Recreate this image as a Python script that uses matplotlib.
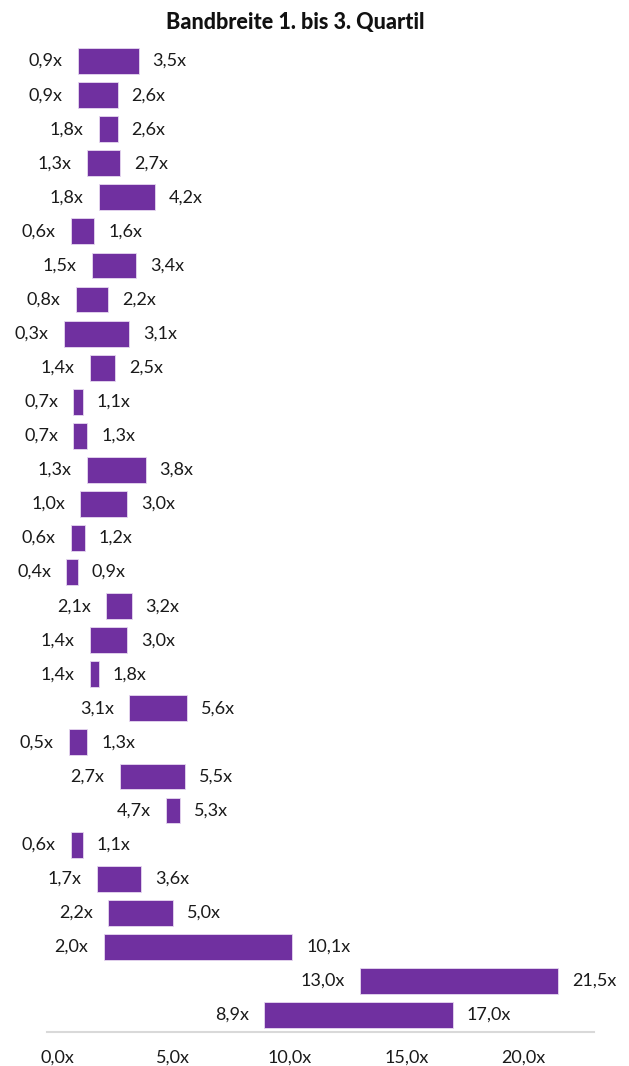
import matplotlib.pyplot as plt

# Quartile range per row (top to bottom)
q1 = [0.9, 0.9, 1.8, 1.3, 1.8, 0.6, 1.5, 0.8, 0.3, 1.4, 0.7, 0.7, 1.3, 1.0, 0.6,
      0.4, 2.1, 1.4, 1.4, 3.1, 0.5, 2.7, 4.7, 0.6, 1.7, 2.2, 2.0, 13.0, 8.9]
q3 = [3.5, 2.6, 2.6, 2.7, 4.2, 1.6, 3.4, 2.2, 3.1, 2.5, 1.1, 1.3, 3.8, 3.0, 1.2,
      0.9, 3.2, 3.0, 1.8, 5.6, 1.3, 5.5, 5.3, 1.1, 3.6, 5.0, 10.1, 21.5, 17.0]
xticks = [0, 5, 10, 15, 20]

color = "#7030a0"
plt.rcParams['font.family'] = ['Lato', 'DejaVu Sans']
fs = 13


def fmt(v):
    return f"{v:.1f}x".replace(".", ",")


fig = plt.figure(figsize=(6.29, 10.66), dpi=100)
ax = fig.add_axes([0.0747, 0.0319, 0.8696, 0.9268])

rows = list(range(len(q1)))
widths = [b - a for a, b in zip(q1, q3)]
ax.barh(rows, widths, left=q1, height=0.76, color=color,
        edgecolor="#e6d8f0", linewidth=0.6)

for r, a, b in zip(rows, q1, q3):
    ax.annotate(fmt(a), (a, r), xytext=(-11, 0), textcoords="offset points",
                ha="right", va="center", fontsize=fs, color="#1a1a1a")
    ax.annotate(fmt(b), (b, r), xytext=(10, 0), textcoords="offset points",
                ha="left", va="center", fontsize=fs, color="#1a1a1a")

ax.set_xlim(-0.43, 23.05)
ax.set_ylim(len(q1) - 0.5, -0.5)
ax.set_xticks(xticks)
ax.set_xticklabels([fmt(t) for t in xticks], fontsize=fs, color="#1a1a1a")
ax.tick_params(axis="x", length=0, pad=13)
ax.set_yticks([])
for s in ["top", "right", "left"]:
    ax.spines[s].set_visible(False)
ax.spines["bottom"].set_color("#d9d9d9")
ax.spines["bottom"].set_linewidth(1.5)

fig.text(0.47, 0.979, "Bandbreite 1. bis 3. Quartil", ha="center", va="center",
         fontsize=15.5, fontweight="black", color="#111111")

fig.savefig("out.png", dpi=100)
